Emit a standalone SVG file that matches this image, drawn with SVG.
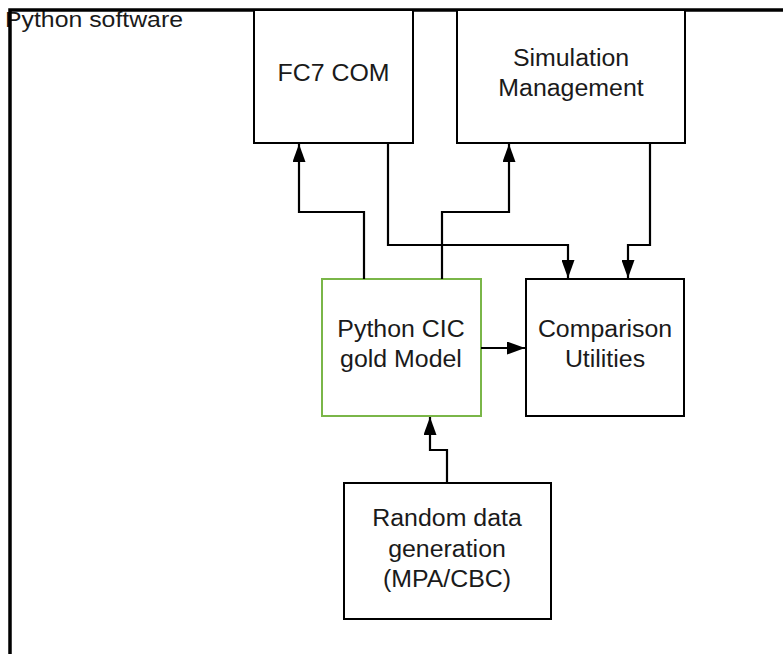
<svg xmlns="http://www.w3.org/2000/svg" width="783" height="654" viewBox="0 0 783 654">
<defs>
<marker id="arr" markerWidth="18" markerHeight="13" refX="18" refY="6.5" orient="auto" markerUnits="userSpaceOnUse">
<path d="M0,0 L18,6.5 L0,13 Z" fill="#000"/>
</marker>
<style>
.box{fill:#fff;stroke:#000;stroke-width:2}
.green{fill:#fff;stroke:#7ab648;stroke-width:2}
.lbl{font-family:"Liberation Sans",Arial,sans-serif;font-size:23.5px;fill:#1a1a1a;text-anchor:middle}
.conn path{fill:none;stroke:#000;stroke-width:2.2;marker-end:url(#arr)}
</style>
</defs>
<rect width="783" height="654" fill="#fff"/>
<g id="frame">
<text x="5" y="27" font-family="Liberation Sans,Arial,sans-serif" font-size="22.5px" fill="#1a1a1a" textLength="178" lengthAdjust="spacingAndGlyphs">Python software</text>
<path d="M10,660 L10,10 L790,10" fill="none" stroke="#000" stroke-width="3.5"/>
</g>
<g id="fc7">
<rect class="box" x="254" y="10" width="159" height="133"/>
<text class="lbl" transform="matrix(1.06 0 0 1 333.5 81)">FC7 COM</text>
</g>
<g id="sim">
<rect class="box" x="457" y="10" width="228" height="133"/>
<text class="lbl" transform="matrix(1.06 0 0 1 571 66)">Simulation</text>
<text class="lbl" transform="matrix(1.06 0 0 1 571 96)">Management</text>
</g>
<g id="gold">
<rect class="green" x="322" y="279" width="159" height="137"/>
<text class="lbl" transform="matrix(1.06 0 0 1 401 337)">Python CIC</text>
<text class="lbl" transform="matrix(1.06 0 0 1 401 367)">gold Model</text>
</g>
<g id="comp">
<rect class="box" x="526" y="279" width="158" height="137"/>
<text class="lbl" transform="matrix(1.06 0 0 1 605 337)">Comparison</text>
<text class="lbl" transform="matrix(1.06 0 0 1 605 367)">Utilities</text>
</g>
<g id="rand">
<rect class="box" x="344" y="483" width="207" height="136"/>
<text class="lbl" transform="matrix(1.06 0 0 1 447 526)">Random data</text>
<text class="lbl" transform="matrix(1.06 0 0 1 447 557)">generation</text>
<text class="lbl" transform="matrix(1.06 0 0 1 447 587)">(MPA/CBC)</text>
</g>
<g id="connectors" class="conn">
<path d="M364,279 L364,212 L299,212 L299,144"/>
<path d="M442,279 L442,212 L509,212 L509,144"/>
<path d="M388,143 L388,245 L568,245 L568,278"/>
<path d="M650,143 L650,245 L628,245 L628,278"/>
<path d="M481,348 L525,348"/>
<path d="M447,483 L447,450 L430,450 L430,417"/>
</g>
</svg>
